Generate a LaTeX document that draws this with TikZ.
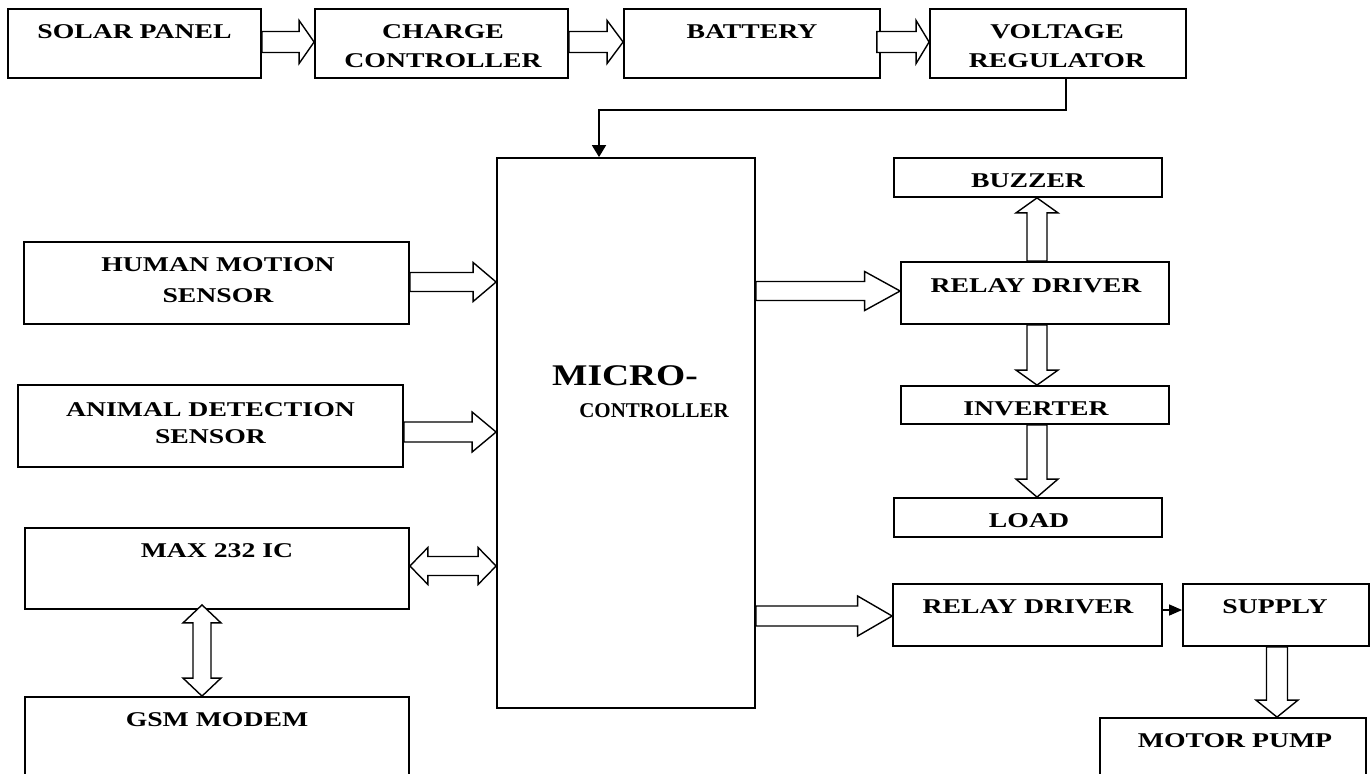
\documentclass[tikz,border=0pt]{standalone}
\usepackage{fontspec}
\setmainfont{Liberation Serif}
\newfontfamily\lblf{Liberation Serif}[FakeStretch=1.32]
\newfontfamily\bigf{Liberation Serif}[FakeStretch=1.25]
\usetikzlibrary{calc,arrows.meta}
\tikzset{
  box/.style={draw, line width=1.8pt, rectangle, inner sep=0pt, fill=none},
  lbl/.style={inner sep=0pt, anchor=base, font=\lblf\bfseries\fontsize{21}{25}\selectfont},
  blk/.style={draw, line width=1.4pt, fill=white, line join=miter},
  conn/.style={draw, line width=1.8pt},
}
\newcommand\barrow[5]{%
  \path (#1) coordinate (ba) (#2) coordinate (bb);
  \path ($(bb)!#5!(ba)$) coordinate (bh);
  \draw[blk] ($(ba)!#3!90:(bb)$) -- ($(bh)!#3!90:(bb)$) -- ($(bh)!#4!90:(bb)$) -- (bb)
     -- ($(bh)!#4!-90:(bb)$) -- ($(bh)!#3!-90:(bb)$) -- ($(ba)!#3!-90:(bb)$) -- cycle;}
\newcommand\dbarrow[5]{%
  \path (#1) coordinate (ba) (#2) coordinate (bb);
  \path ($(bb)!#5!(ba)$) coordinate (bh) ($(ba)!#5!(bb)$) coordinate (bg);
  \draw[blk] (ba) -- ($(bg)!#4!90:(bb)$) -- ($(bg)!#3!90:(bb)$) -- ($(bh)!#3!90:(bb)$)
     -- ($(bh)!#4!90:(bb)$) -- (bb) -- ($(bh)!#4!-90:(bb)$) -- ($(bh)!#3!-90:(bb)$)
     -- ($(bg)!#3!-90:(bb)$) -- ($(bg)!#4!-90:(bb)$) -- cycle;}
\begin{document}
\begin{tikzpicture}[x=1pt,y=-1pt]
\useasboundingbox (0,0) rectangle (1372,773);
\clip (0,0) rectangle (1372,773);
\fill[white] (0,0) rectangle (1372,773);
% boxes
\node[box, minimum width=253pt, minimum height=69pt] (sp)  at (134.5,43.5) {};
\node[box, minimum width=253pt, minimum height=69pt] (cc)  at (441.5,43.5) {};
\node[box, minimum width=256pt, minimum height=69pt] (bat) at (752,43.5) {};
\node[box, minimum width=256pt, minimum height=69pt] (vr)  at (1058,43.5) {};
\node[box, minimum width=385pt, minimum height=82pt] (hms) at (216.5,283) {};
\node[box, minimum width=385pt, minimum height=82pt] (ads) at (210.5,426) {};
\node[box, minimum width=384pt, minimum height=81pt] (max) at (217,568.5) {};
\node[box, minimum width=384pt, minimum height=93pt] (gsm) at (217,743.5) {};
\node[box, minimum width=258pt, minimum height=550pt] (mc) at (626,433) {};
\node[box, minimum width=268pt, minimum height=39pt] (buz) at (1028,177.5) {};
\node[box, minimum width=268pt, minimum height=62pt] (rd1) at (1035,293) {};
\node[box, minimum width=268pt, minimum height=38pt] (inv) at (1035,405) {};
\node[box, minimum width=268pt, minimum height=39pt] (load) at (1028,517.5) {};
\node[box, minimum width=269pt, minimum height=62pt] (rd2) at (1027.5,615) {};
\node[box, minimum width=186pt, minimum height=62pt] (sup) at (1276,615) {};
\node[box, minimum width=266pt, minimum height=82pt] (mp) at (1233,759) {};
% labels
\node[lbl] (tsp) at (134.5,39) {SOLAR PANEL};
\node[lbl] (tcc1) at (443,39) {CHARGE};
\node[lbl] (tcc2) at (443,68) {CONTROLLER};
\node[lbl] (tbat) at (752,39) {BATTERY};
\node[lbl] (tvr1) at (1057,39) {VOLTAGE};
\node[lbl] (tvr2) at (1057,68) {REGULATOR};
\node[lbl] (thms1) at (218,271) {HUMAN MOTION};
\node[lbl] (thms2) at (218,302) {SENSOR};
\node[lbl] (tads1) at (210.5,416) {ANIMAL DETECTION};
\node[lbl] (tads2) at (210.5,443) {SENSOR};
\node[lbl] (tmax) at (217,557) {MAX 232 IC};
\node[lbl] (tgsm) at (217,726) {GSM MODEM};
\node[inner sep=0pt, anchor=base, font=\bigf\bfseries\fontsize{30}{34}\selectfont] (tmc1) at (625,385) {MICRO-};
\node[inner sep=0pt, anchor=base, font=\bfseries\fontsize{21}{25}\selectfont] (tmc2) at (654,417) {CONTROLLER};
\node[lbl] (tbuz) at (1028,187) {BUZZER};
\node[lbl] (trd1) at (1036,292) {RELAY DRIVER};
\node[lbl] (tinv) at (1036,415) {INVERTER};
\node[lbl] (tload) at (1029,527) {LOAD};
\node[lbl] (trd2) at (1028,613) {RELAY DRIVER};
\node[lbl] (tsup) at (1275,613) {SUPPLY};
\node[lbl] (tmp) at (1235,747) {MOTOR PUMP};
% block arrows
\barrow{sp.east |- 0,42}{cc.west |- 0,42}{10.5pt}{21.5pt}{15pt}
\barrow{cc.east |- 0,42}{bat.west |- 0,42}{10.5pt}{21.5pt}{16pt}
\barrow{$(bat.east |- 0,42)+(-4,0)$}{vr.west |- 0,42}{10.5pt}{21.5pt}{13pt}
\barrow{hms.east |- 0,282}{mc.west |- 0,282}{9.5pt}{19.5pt}{23pt}
\barrow{ads.east |- 0,432}{mc.west |- 0,432}{10pt}{20pt}{24pt}
\dbarrow{max.east |- 0,566}{mc.west |- 0,566}{9.5pt}{18.5pt}{18pt}
\dbarrow{$(max.south -| 202,0)+(0,-5)$}{gsm.north -| 202,0}{9pt}{19pt}{18pt}
\barrow{mc.east |- 0,291}{rd1.west |- 0,291}{9.5pt}{19.5pt}{35.5pt}
\barrow{rd1.north -| 1037,0}{buz.south -| 1037,0}{10pt}{21pt}{15pt}
\barrow{rd1.south -| 1037,0}{inv.north -| 1037,0}{10pt}{21pt}{15pt}
\barrow{inv.south -| 1037,0}{load.north -| 1037,0}{10pt}{21pt}{18pt}
\barrow{mc.east |- 0,616}{rd2.west |- 0,616}{10pt}{20pt}{34.5pt}
\barrow{sup.south -| 1277,0}{mp.north -| 1277,0}{10.5pt}{21pt}{17pt}
% line connectors
\coordinate (k) at (1066,110);
\draw[conn, -{Triangle[length=12pt,width=14pt]}] (vr.south -| k) -- (k) -| (mc.north -| 599,0);
\draw[line width=1.4pt, -{Triangle[length=13pt,width=11pt]}] (rd2.east |- 0,610) -- (sup.west |- 0,610);
\end{tikzpicture}
\end{document}
